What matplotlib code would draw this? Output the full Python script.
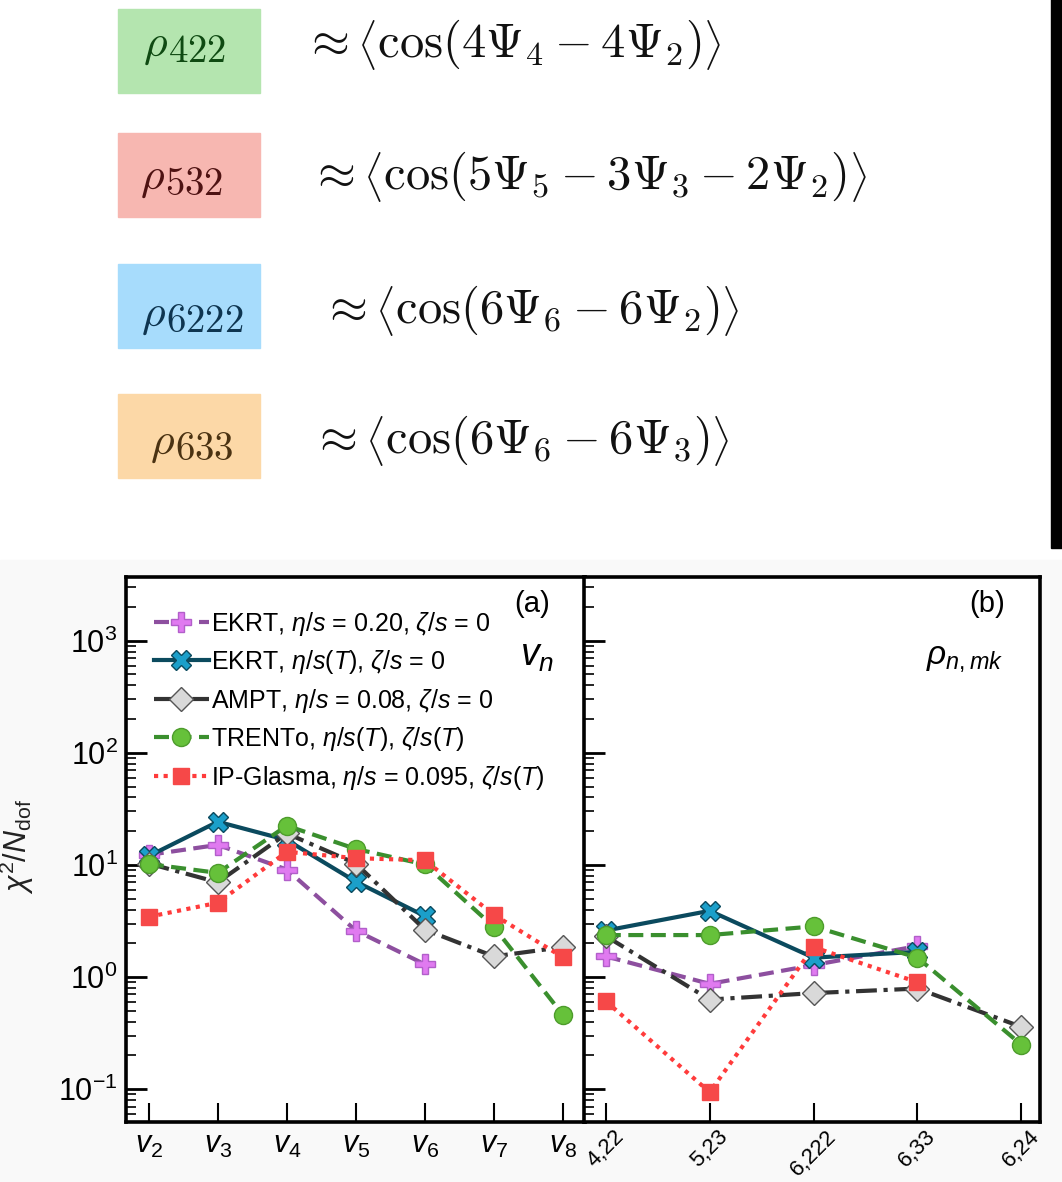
import matplotlib
matplotlib.use("Agg")
import matplotlib.pyplot as plt
from matplotlib.patches import Rectangle
from matplotlib.ticker import LogLocator

# ---- data ----
vn_labels = [r'$\mathit{v}_2$', r'$\mathit{v}_3$', r'$\mathit{v}_4$', r'$\mathit{v}_5$',
             r'$\mathit{v}_6$', r'$\mathit{v}_7$', r'$\mathit{v}_8$']
rho_labels = ['4,22', '5,23', '6,222', '6,33', '6,24']

ekrt020_vn = [12.3, 15.1, 9.1, 2.6, 1.3]
ekrtT_vn = [12.0, 24.3, 16.7, 7.1, 3.5]
ampt_vn = [10.3, 7.0, 19.1, 10.3, 2.65, 1.53, 1.85]
trento_vn = [10.2, 8.5, 22.4, 13.9, 10.1, 2.8, 0.46]
ipg_vn = [3.45, 4.6, 13.1, 11.5, 11.0, 3.6, 1.5]

ekrt020_rho = [1.53, 0.87, 1.28, 1.89]
ekrtT_rho = [2.6, 3.9, 1.49, 1.68]
ampt_rho = [2.32, 0.63, 0.72, 0.79, 0.36]
trento_rho = [2.37, 2.37, 2.83, 1.49, 0.25]
ipg_rho = [0.61, 0.094, 1.85, 0.90]

legend_labels = [r'EKRT, $\eta/s$ = 0.20, $\zeta/s$ = 0',
                 r'EKRT, $\eta/s(T)$, $\zeta/s$ = 0',
                 r'AMPT, $\eta/s$ = 0.08, $\zeta/s$ = 0',
                 r'TRENTo, $\eta/s(T)$, $\zeta/s(T)$',
                 r'IP-Glasma, $\eta/s$ = 0.095, $\zeta/s(T)$']

box_indices = ['422', '532', '6222', '633']
formulas = [r'$\approx \left\langle\cos(4\Psi_4 - 4\Psi_2)\right\rangle$',
            r'$\approx \left\langle\cos(5\Psi_5 - 3\Psi_3 - 2\Psi_2)\right\rangle$',
            r'$\approx \left\langle\cos(6\Psi_6 - 6\Psi_2)\right\rangle$',
            r'$\approx \left\langle\cos(6\Psi_6 - 6\Psi_3)\right\rangle$']

plt.rcParams['font.family'] = ['Liberation Sans', 'DejaVu Sans']
plt.rcParams['mathtext.fontset'] = 'custom'
plt.rcParams['mathtext.rm'] = 'Liberation Sans'
plt.rcParams['mathtext.it'] = 'Liberation Sans:italic'
plt.rcParams['mathtext.bf'] = 'Liberation Sans:bold'

W, H = 1062, 1182
fig = plt.figure(figsize=(W / 100, H / 100), dpi=100)

def fx(px):
    return px / W

def fy(py):
    return 1 - py / H

# light background of the pasted plot + edge strip
fig.patches.append(Rectangle((0, 0), 1, fy(560), transform=fig.transFigure,
                             color='#f9f9f9', zorder=-5))
fig.patches.append(Rectangle((fx(1051), fy(548)), 1, 1, transform=fig.transFigure,
                             color='black', zorder=-4))

# ---- top: coloured boxes with formulas ----
box_colors = ['#b4e5af', '#f7b7b1', '#a7dcfc', '#fcd8a7']
txt_colors = ['#0f4a12', '#4e1212', '#0e3550', '#4a3212']
box_tops = [9, 133, 264, 394]
digit_base = [62, 195, 332, 460]
rho_x = [143, 140, 141, 150]
form_x = [303, 309, 321, 311]
form_y = [45, 176, 311, 440]
for i in range(4):
    top = box_tops[i]
    tc = txt_colors[i]
    fig.patches.append(Rectangle((fx(118), fy(top + 84)), fx(142), 84 / H,
                                 transform=fig.transFigure, color=box_colors[i], zorder=-3))
    fig.text(fx(rho_x[i]), fy(digit_base[i] - 6), r'$\rho$', color=tc, fontsize=33,
             ha='left', va='baseline', math_fontfamily='cm')
    fig.text(fx(rho_x[i] + 25), fy(digit_base[i]), r'$\mathrm{%s}$' % box_indices[i],
             color=tc, fontsize=28, ha='left', va='baseline', math_fontfamily='cm')
    fig.text(fx(form_x[i]), fy(form_y[i]), formulas[i], color='#111111', fontsize=35,
             ha='left', va='center', math_fontfamily='cm')

# ---- bottom: chi2 panels ----
ax_a = fig.add_axes([fx(126), fy(1122), fx(585 - 126), (1122 - 577) / H])
ax_b = fig.add_axes([fx(584), fy(1122), fx(1040 - 584), (1122 - 577) / H], sharey=ax_a)

styles = [
    dict(color='#8d4f9f', ls=(0, (3.6, 1.8)), marker='P', mfc='#e07af0', mec='#b25fca', ms=14),
    dict(color='#0b4a5e', ls='-', marker='X', mfc='#1b9fca', mec='#0b4a5e', ms=14),
    dict(color='#333333', ls=(0, (5, 1.6, 1, 1.6)), marker='D', mfc='#d9d9d9', mec='#555555', ms=12),
    dict(color='#3a8f2e', ls=(0, (3.6, 1.8)), marker='o', mfc='#66c13a', mec='#4d9c2c', ms=13),
    dict(color='#ff3b3b', ls=(0, (1, 1.3)), marker='s', mfc='#f64848', mec='#f64848', ms=12),
]

vn_sets = [ekrt020_vn, ekrtT_vn, ampt_vn, trento_vn, ipg_vn]
rho_sets = [ekrt020_rho, ekrtT_rho, ampt_rho, trento_rho, ipg_rho]

handles = []
for vals, st, lab in zip(vn_sets, styles, legend_labels):
    h, = ax_a.plot(range(len(vals)), vals, lw=3, label=lab, **st)
    handles.append(h)
for vals, st in zip(rho_sets, styles):
    ax_b.plot(range(len(vals)), vals, lw=3, **st)

ax_a.set_yscale('log')
ax_a.set_ylim(0.051, 3700)
ax_a.set_xlim(-0.33, 6.32)
ax_b.set_xlim(-0.21, 4.18)

for ax in (ax_a, ax_b):
    for sp in ax.spines.values():
        sp.set_linewidth(2.6)
    ax.set_facecolor('white')
    ax.yaxis.set_major_locator(LogLocator(base=10, numticks=10))
    ax.yaxis.set_minor_locator(LogLocator(base=10, subs=range(2, 10), numticks=20))
    ax.tick_params(axis='y', which='major', direction='in', length=15, width=2, labelsize=22, pad=6)
    ax.tick_params(axis='y', which='minor', direction='in', length=7, width=1.2)
    ax.tick_params(axis='x', which='major', direction='in', length=14, width=1.5, labelsize=22, pad=6)
    ax.tick_params(axis='x', which='minor', bottom=False)

ax_a.set_xticks(range(len(vn_labels)))
ax_a.set_xticklabels(vn_labels)
ax_b.set_xticks(range(len(rho_labels)))
ax_b.set_xticklabels(rho_labels, rotation=45, ha='center', fontsize=16)
ax_b.tick_params(axis='x', pad=3)
ax_b.tick_params(axis='y', which='both', labelleft=False)

ax_a.set_ylabel(r'$\chi^2/N_{\rm dof}$', fontsize=22, color='#222222')
ax_a.yaxis.set_label_coords(-0.195, 0.505)

ax_a.text(0.885, 0.95, '(a)', transform=ax_a.transAxes, fontsize=21, ha='center', va='center')
ax_a.text(0.895, 0.855, r'$\mathit{v}_n$', transform=ax_a.transAxes, fontsize=27, ha='center', va='center')
ax_b.text(0.885, 0.95, '(b)', transform=ax_b.transAxes, fontsize=21, ha='center', va='center')
ax_b.text(0.835, 0.85, r'$\rho_{n,mk}$', transform=ax_b.transAxes, fontsize=24, ha='center', va='center')

ax_a.legend(handles=handles, loc='upper left', bbox_to_anchor=(0.06, 0.94), frameon=False,
            fontsize=18, handlelength=2.2, handletextpad=0.1, labelspacing=0.42,
            borderaxespad=0, borderpad=0)

fig.savefig('out.png', dpi=100)
